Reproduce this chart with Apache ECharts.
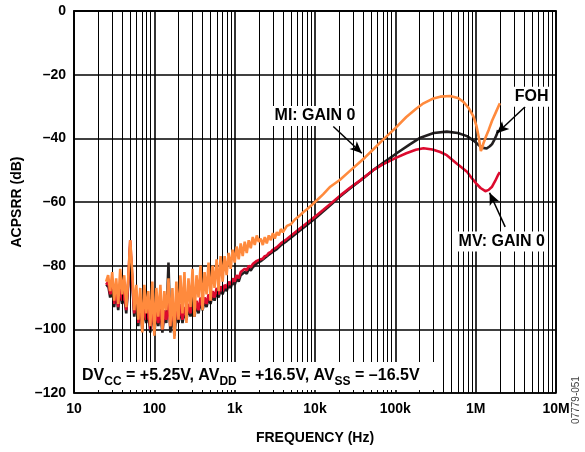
<!DOCTYPE html>
<html><head><meta charset="utf-8">
<script src="https://cdn.jsdelivr.net/npm/echarts/dist/echarts.min.js"></script>
<style>html,body{margin:0;padding:0;background:#fff}#c{width:585px;height:452px}</style>
</head><body><div id="c"></div>
<script>
// ---- Data ----
const noiseFreq = [25.1,26.6,28.2,29.9,31.6,33.5,35.5,37.6,39.8,42.2,44.7,47.3,50.1,53.1,56.2,59.6,63.1,66.8,70.8,75.0,79.4,84.1,89.1,94.4,
  100,106,112,119,126,133,141,150,158,168,178,188,200,211,224,237,251,266,282,299,316,335,355,376,398,422,447,473,501,531,562,596,631,668,708,750,794,841,891,944,
  1000,1059,1122,1189,1259,1334,1413,1496,1585,1679,1778,1884,1995];
const miNoise = [-85,-83,-88,-82,-91,-84,-92,-81,-89,-83,-93,-84,-72,-82,-94,-86,-97,-87,-101,-86,-95,-88,-99,-85,
  -102,-87,-96,-86,-100,-88,-94,-84,-99,-87,-103,-85,-97,-83,-95,-82,-98,-84,-93,-81,-96,-83,-90,-80,-94,-82,-89,-79,-91,-80,-87,-78,-88,-77,-85,-77,-83,-76,-81,-75,
  -79,-74,-78,-73,-77,-72.5,-76,-72,-74.5,-71,-73.5,-70.5,-72.5];
const mvNoise = [-86,-85,-89,-86,-92,-87,-93,-86,-91,-88,-94,-85,-72,-84,-95,-90,-98,-91,-99,-92,-97,-93,-100,-92,
  -99,-94,-98,-93,-100,-94,-97,-92,-99,-94,-98,-93,-97,-92,-97,-93,-96,-92,-95,-91,-95,-91,-94,-90,-93,-90,-92,-89,-91,-88,-90,-87,-89,-86.5,-88,-86,-87,-85,-86,-84,
  -85,-83,-84,-82,-82.5,-81,-81.5,-80,-80.5,-79.5,-79.5,-78.5,-78.5];
const fohNoise = [-86.5,-86,-90,-87,-93,-88,-94,-87,-92,-89,-95,-86,-74,-85,-96,-91,-99,-92,-100,-93,-98,-94,-101,-93,
  -101,-95,-99,-94,-101,-95,-98,-79,-101,-95,-102,-94,-98,-93,-98,-94,-97,-93,-96,-92,-96,-92,-95,-91,-94,-91,-93,-90,-92,-89,-91,-88,-90,-87.5,-89,-87,-88,-86,-87,-85,
  -86,-84,-85,-83,-83.5,-82,-82.5,-81,-81.5,-80.5,-80.3,-79.3,-79.3];

const miFreq = [2110,2240,2370,2510,2660,2820,2990,3160,3350,3550,3760,3980,4470,5010,5620,6310,7080,7940,8910,10000,12600,15500,20500,27000,36000,42000,53000,70000,
  100000,137000,180000,224000,290000,362000,480000,600000,700000,820000,940000,1020000,1090000,1160000,1200000,1240000,1340000,1460000,1600000,1770000,2000000];
const miVal = [-71.5,-73.5,-71,-73,-70.5,-72,-69.8,-71.5,-69.5,-70.5,-68.5,-69.5,-67.5,-67,-65.5,-64.5,-63.3,-62.3,-61.2,-60,-57.6,-55.2,-53,-50.3,-47.5,-46,-43.5,-40.5,
  -36.8,-33.3,-30.8,-29,-27.6,-26.9,-26.7,-27.3,-28.5,-30.5,-33.2,-36,-39.5,-44,-43.2,-41.8,-39.5,-37.2,-34.5,-32,-29];

const mvFreq = [2110,2240,2370,2510,2660,2820,2990,3350,3760,4470,5010,6310,7940,10000,12600,15500,20500,27000,36500,53000,70000,100000,137000,180000,224000,290000,
  362000,437000,575000,780000,900000,1020000,1150000,1320000,1450000,1600000,1750000,1900000,2000000];
const mvVal = [-78,-77.8,-77,-76.8,-76,-75.7,-75,-74.2,-73,-71.6,-70.6,-68.6,-66.6,-64.6,-62.5,-60.6,-58,-55.6,-53.2,-50,-48.2,-46.2,-44.7,-43.6,-43.1,-43.5,
  -44.3,-45.3,-47.8,-50.5,-52.6,-54.2,-55.6,-56.6,-56.2,-55.2,-53.4,-51.5,-50.6];

const fohFreq = [2110,2370,2660,2990,3350,3760,4470,5010,6310,7940,10000,12600,15500,20500,27000,36500,53000,70000,105000,150000,205000,300000,437000,600000,
  780000,950000,1100000,1240000,1370000,1500000,1600000,1720000,1830000,1900000];
const fohVal = [-78.6,-77.6,-76.6,-75.6,-74.8,-73.6,-72.2,-71.2,-69.2,-67.2,-65.2,-63,-61,-58.3,-55.8,-53.3,-50,-47.8,-44.6,-42,-39.8,-38.3,-37.9,-38.3,
  -39.3,-40.8,-42.2,-43,-43.2,-42.5,-41.8,-40.3,-38.8,-37.4];

const xTickLabels = {10:'10',100:'100',1000:'1k',10000:'10k',100000:'100k',1000000:'1M',10000000:'10M'};
const yMin = -120, yMax = 0, yStep = 20;

const seriesColors = {mi:'#FF8A3D', mv:'#DC0A2E', foh:'#231F20'};
const FONT = 'Liberation Sans, Arial, sans-serif';

function pairs(fr, vals){ return fr.map((f,i)=>[f, vals[i]]); }

// minor gridlines (2..9 x decade)
const minorLines = [];
for (let d = 10; d < 1e7; d *= 10) for (let m = 2; m <= 9; m++) minorLines.push({xAxis: m*d});

const chart = echarts.init(document.getElementById('c'), null, {renderer:'canvas'});
const opt = {
  animation: false,
  backgroundColor: '#fff',
  grid: {left: 74, right: 29, top: 11, bottom: 59, show: true, borderColor: '#000', borderWidth: 1.6, backgroundColor: 'transparent'},
  xAxis: {
    type: 'log', logBase: 10, min: 10, max: 1e7,
    axisLine: {show: true, lineStyle: {color: '#000', width: 1.6}},
    axisTick: {show: false},
    splitLine: {show: true, lineStyle: {color: '#000', width: 1.6}},
    axisLabel: {color: '#000', fontFamily: FONT, fontWeight: 'bold', fontSize: 14, margin: 9,
      formatter: v => xTickLabels[Math.round(v)] || ''},
    name: 'FREQUENCY (Hz)', nameLocation: 'middle', nameGap: 38,
    nameTextStyle: {color: '#000', fontFamily: FONT, fontWeight: 'bold', fontSize: 14}
  },
  yAxis: {
    type: 'value', min: yMin, max: yMax, interval: yStep,
    axisLine: {show: true, lineStyle: {color: '#000', width: 1.6}},
    axisTick: {show: false},
    splitLine: {show: true, lineStyle: {color: '#000', width: 1.6}},
    axisLabel: {color: '#000', fontFamily: FONT, fontWeight: 'bold', fontSize: 14, margin: 8,
      formatter: v => v === 0 ? '0' : '\u2013' + Math.abs(v)},
    name: 'ACPSRR (dB)', nameLocation: 'middle', nameGap: 43,
    nameTextStyle: {color: '#000', fontFamily: FONT, fontWeight: 'bold', fontSize: 14}
  },
  series: [
    {type: 'line', data: [], silent: true, z: 1,
      markLine: {silent: true, symbol: ['none','none'], label: {show: false},
        lineStyle: {color: '#000', width: 1, type: 'solid'}, data: minorLines}},
    {name: 'FOH', type: 'line', showSymbol: false, z: 3,
      data: pairs(noiseFreq, fohNoise).concat(pairs(fohFreq, fohVal)),
      lineStyle: {color: seriesColors.foh, width: 2.6}},
    {name: 'MV: GAIN 0', type: 'line', showSymbol: false, z: 4,
      data: pairs(noiseFreq, mvNoise).concat(pairs(mvFreq, mvVal)),
      lineStyle: {color: seriesColors.mv, width: 2.6}},
    {name: 'MI: GAIN 0', type: 'line', showSymbol: false, z: 5,
      data: pairs(noiseFreq, miNoise).concat(pairs(miFreq, miVal)),
      lineStyle: {color: seriesColors.mi, width: 2.6}},
    {type: 'line', data: [], silent: true, z: 6,
      markLine: {silent: true, symbol: ['none','arrow'], symbolSize: [8, 12], label: {show: false},
        lineStyle: {color: '#000', width: 1.5, type: 'solid'},
        data: [
          [{coord: [16900, -36.3]}, {coord: [38300, -44.7]}],
          [{coord: [4130000, -30.1]}, {coord: [1840000, -38.4]}],
          [{coord: [2330000, -67.8]}, {coord: [1490000, -57.1]}]
        ]}}
  ]
};
chart.setOption(opt);

// annotations positioned through data coordinates
const annots = [
  {text: 'MI: GAIN 0', at: [10000, -33]},
  {text: 'FOH', at: [4980000, -26.9]},
  {text: 'MV: GAIN 0', at: [2110000, -72.4]}
];
const graphics = annots.map(a => {
  const p = chart.convertToPixel({gridIndex: 0}, a.at);
  return {type: 'text', x: p[0], y: p[1], z: 20,
    style: {text: a.text, fill: '#000', font: 'bold 16px ' + FONT, align: 'center', verticalAlign: 'middle',
      backgroundColor: '#fff', padding: [2, 3]}};
});
graphics.push({type: 'rect', shape: {x: 75, y: 362, width: 365, height: 28}, style: {fill: '#fff'}, z: 20});
graphics.push({type: 'text', x: 82, y: 368, z: 21,
  style: {text: '{n|DV}{s|CC}{n| = +5.25V, AV}{s|DD}{n| = +16.5V, AV}{s|SS}{n| = \u201316.5V}',
    rich: {
      n: {fontFamily: FONT, fontWeight: 'bold', fontSize: 16, fill: '#000', lineHeight: 18, verticalAlign: 'top'},
      s: {fontFamily: FONT, fontWeight: 'bold', fontSize: 12, fill: '#000', lineHeight: 13, padding: [8,0,0,0], verticalAlign: 'top'}
    }}});
graphics.push({type: 'text', x: 576, y: 400, rotation: Math.PI/2, z: 21,
  style: {text: '07779-051', fill: '#444', font: '10px ' + FONT, align: 'center', verticalAlign: 'middle'}});
chart.setOption({graphic: graphics});
</script></body></html>
